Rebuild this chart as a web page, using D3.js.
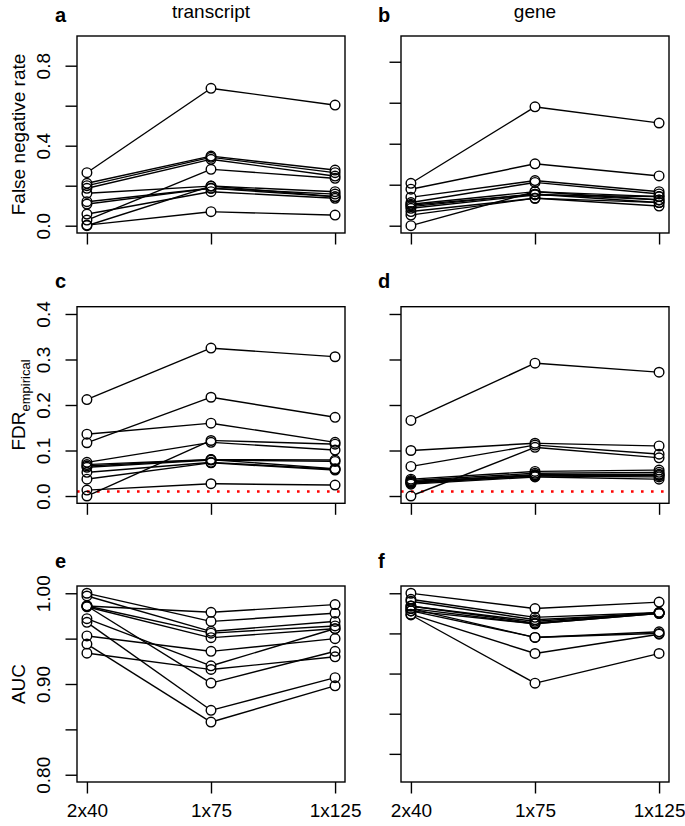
<!DOCTYPE html>
<html><head><meta charset="utf-8">
<script src="https://cdn.jsdelivr.net/npm/d3@7"></script>
<style>
body{margin:0;background:#fff}
text{font-family:"Liberation Sans",Arial,Helvetica,sans-serif;fill:#000}
</style>
</head><body>
<svg id="chart" width="685" height="826"></svg>
<script>
// ---------------- data ----------------
const categories = ["2x40", "1x75", "1x125"];
const columnTitles = ["transcript", "gene"];
const panelLetters = ["a", "b", "c", "d", "e", "f"];
const rowTitles = ["False negative rate", "FDR", "AUC"];
const fdrThreshold = 0.01;

const fnrTranscript = [
  [0.265, 0.687, 0.603],
  [0.212, 0.348, 0.278],
  [0.200, 0.342, 0.265],
  [0.187, 0.332, 0.248],
  [0.028, 0.282, 0.237],
  [0.162, 0.198, 0.170],
  [0.120, 0.187, 0.158],
  [0.108, 0.187, 0.145],
  [0.058, 0.170, 0.137],
  [0.000, 0.198, 0.145],
  [0.003, 0.070, 0.053]
];
const fnrGene = [
  [0.207, 0.580, 0.501],
  [0.178, 0.302, 0.243],
  [0.139, 0.220, 0.166],
  [0.113, 0.211, 0.155],
  [0.000, 0.166, 0.142],
  [0.105, 0.166, 0.126],
  [0.093, 0.154, 0.126],
  [0.100, 0.154, 0.113],
  [0.069, 0.134, 0.113],
  [0.052, 0.134, 0.096],
  [0.085, 0.150, 0.142]
];
const fdrTranscript = [
  [0.212, 0.325, 0.306],
  [0.117, 0.217, 0.173],
  [0.136, 0.160, 0.118],
  [0.000, 0.122, 0.114],
  [0.074, 0.118, 0.101],
  [0.069, 0.080, 0.079],
  [0.063, 0.079, 0.076],
  [0.052, 0.074, 0.059],
  [0.037, 0.073, 0.057],
  [0.066, 0.080, 0.060],
  [0.013, 0.027, 0.024]
];
const fdrGene = [
  [0.166, 0.292, 0.272],
  [0.100, 0.116, 0.110],
  [0.065, 0.112, 0.092],
  [0.000, 0.107, 0.084],
  [0.037, 0.054, 0.057],
  [0.034, 0.050, 0.052],
  [0.030, 0.047, 0.048],
  [0.026, 0.042, 0.037],
  [0.032, 0.045, 0.045],
  [0.028, 0.044, 0.042],
  [0.030, 0.046, 0.047]
];
const aucTranscript = [
  [0.986, 0.979, 0.9875],
  [1.000, 0.969, 0.978],
  [0.997, 0.958, 0.969],
  [0.986, 0.956, 0.964],
  [0.985, 0.951, 0.961],
  [0.953, 0.936, 0.950],
  [0.972, 0.920, 0.961],
  [0.934, 0.916, 0.930],
  [0.986, 0.901, 0.936],
  [0.968, 0.871, 0.907],
  [0.944, 0.858, 0.898]
];
const aucGene = [
  [1.000, 0.981, 0.989],
  [0.9925, 0.970, 0.976],
  [0.990, 0.967, 0.975],
  [0.984, 0.963, 0.976],
  [0.981, 0.962, 0.975],
  [0.978, 0.945, 0.952],
  [0.974, 0.925, 0.949],
  [0.973, 0.888, 0.925],
  [0.984, 0.965, 0.976],
  [0.978, 0.962, 0.975],
  [0.981, 0.945, 0.950]
];

const fnrTicks = [0, 0.2, 0.4, 0.6, 0.8];
const fnrTickLabels = ["0.0", "", "0.4", "", "0.8"];
const fdrTicks = [0, 0.1, 0.2, 0.3, 0.4];
const fdrTickLabels = ["0.0", "0.1", "0.2", "0.3", "0.4"];
const aucTicks = [0.80, 0.85, 0.90, 0.95, 1.00];
const aucTickLabels = ["0.80", "", "0.90", "", "1.00"];

// ---------------- layout ----------------
const cols = [[77, 345], [401, 669]];
const rowsY = [[36, 233], [306.7, 503.3], [586, 782]];
const FS = 19;
const TICK = 11.5;
const R = 4.8;
const LW = 1.4;

const svg = d3.select("#chart");

function expand(lim) { const r = lim[1] - lim[0]; return [lim[0] - 0.04 * r, lim[1] + 0.04 * r]; }

const panels = [
  {col:0,row:0,data:fnrTranscript,ylim:[0,0.912],ticks:fnrTicks,labels:fnrTickLabels},
  {col:1,row:0,data:fnrGene,ylim:[0,0.89],ticks:fnrTicks,labels:null},
  {col:0,row:1,data:fdrTranscript,ylim:[0,0.4],ticks:fdrTicks,labels:fdrTickLabels,hline:fdrThreshold},
  {col:1,row:1,data:fdrGene,ylim:[0,0.4],ticks:fdrTicks,labels:null,hline:fdrThreshold},
  {col:0,row:2,data:aucTranscript,ylim:[0.8,1.0],ticks:aucTicks,labels:aucTickLabels,xlab:true},
  {col:1,row:2,data:aucGene,ylim:[0.774,1.0],ticks:aucTicks,labels:null,xlab:true}
];

panels.forEach((p, pi) => {
  const [x0, x1] = cols[p.col], [y0, y1] = rowsY[p.row];
  const xs = d3.scaleLinear().domain(expand([1, 3])).range([x0, x1]);
  const ys = d3.scaleLinear().domain(expand(p.ylim)).range([y1, y0]);
  const g = svg.append("g");

  const clipId = "clip" + pi;
  svg.append("clipPath").attr("id", clipId).append("rect")
    .attr("x", x0).attr("y", y0).attr("width", x1 - x0).attr("height", y1 - y0);

  if (p.hline != null) {
    g.append("line").attr("clip-path", `url(#${clipId})`)
      .attr("x1", x0).attr("x2", x1).attr("y1", ys(p.hline)).attr("y2", ys(p.hline))
      .attr("stroke", "#ff0000").attr("stroke-width", 2.6)
      .attr("stroke-dasharray", "2.6 7.4");
  }

  p.data.forEach(series => {
    const pts = series.map((v, i) => [xs(i + 1), ys(v)]);
    for (let i = 0; i < pts.length - 1; i++) {
      const [ax, ay] = pts[i], [bx, by] = pts[i + 1];
      const dx = bx - ax, dy = by - ay, L = Math.hypot(dx, dy);
      const ux = dx / L, uy = dy / L;
      g.append("line")
        .attr("x1", ax + ux * R).attr("y1", ay + uy * R)
        .attr("x2", bx - ux * R).attr("y2", by - uy * R)
        .attr("stroke", "#000").attr("stroke-width", LW);
    }
    g.selectAll(null).data(pts).enter().append("circle")
      .attr("cx", d => d[0]).attr("cy", d => d[1]).attr("r", R)
      .attr("fill", "none").attr("stroke", "#000").attr("stroke-width", LW);
  });

  // box
  g.append("rect").attr("x", x0).attr("y", y0).attr("width", x1 - x0).attr("height", y1 - y0)
    .attr("fill", "none").attr("stroke", "#000").attr("stroke-width", LW);

  // y axis
  const ya = g.append("g").attr("transform", `translate(${x0},0)`)
    .call(d3.axisLeft(ys).tickValues(p.ticks).tickSize(TICK).tickSizeOuter(0)
      .tickFormat((d, i) => p.labels ? p.labels[i] : ""));
  ya.select(".domain").remove();
  ya.selectAll(".tick line").attr("stroke", "#000").attr("stroke-width", LW);
  ya.selectAll(".tick text").attr("transform", "rotate(-90)")
    .attr("x", 0).attr("y", -27).attr("dy", 0).attr("text-anchor", "middle")
    .attr("font-size", FS).attr("font-family", null);

  // x axis
  const xa = g.append("g").attr("transform", `translate(0,${y1})`)
    .call(d3.axisBottom(xs).tickValues([1, 2, 3]).tickSize(TICK).tickSizeOuter(0)
      .tickFormat((d, i) => p.xlab ? categories[i] : ""));
  xa.select(".domain").remove();
  xa.selectAll(".tick line").attr("stroke", "#000").attr("stroke-width", LW);
  xa.selectAll(".tick text").attr("y", 34.7).attr("dy", 0)
    .attr("font-size", FS).attr("font-family", null);

  // panel letter
  const letterX = p.col === 0 ? 55 : 378;
  const letterY = [21.7, 288, 568][p.row];
  svg.append("text").attr("x", letterX).attr("y", letterY)
    .attr("font-size", FS + 1).attr("font-weight", "bold").text(panelLetters[pi]);

  // column titles
  if (p.row === 0) {
    svg.append("text").attr("x", (x0 + x1) / 2).attr("y", 18)
      .attr("text-anchor", "middle").attr("font-size", FS).text(columnTitles[p.col]);
  }

  // row titles
  if (p.col === 0) {
    const cy = (y0 + y1) / 2;
    const t = svg.append("text").attr("transform", `translate(25,${cy}) rotate(-90)`)
      .attr("text-anchor", "middle").attr("font-size", FS);
    if (p.row === 1) {
      t.append("tspan").text(rowTitles[1]);
      t.append("tspan").attr("font-size", 13).attr("dy", 5).text("empirical");
    } else {
      t.text(rowTitles[p.row]);
    }
  }
});
</script>
</body></html>
